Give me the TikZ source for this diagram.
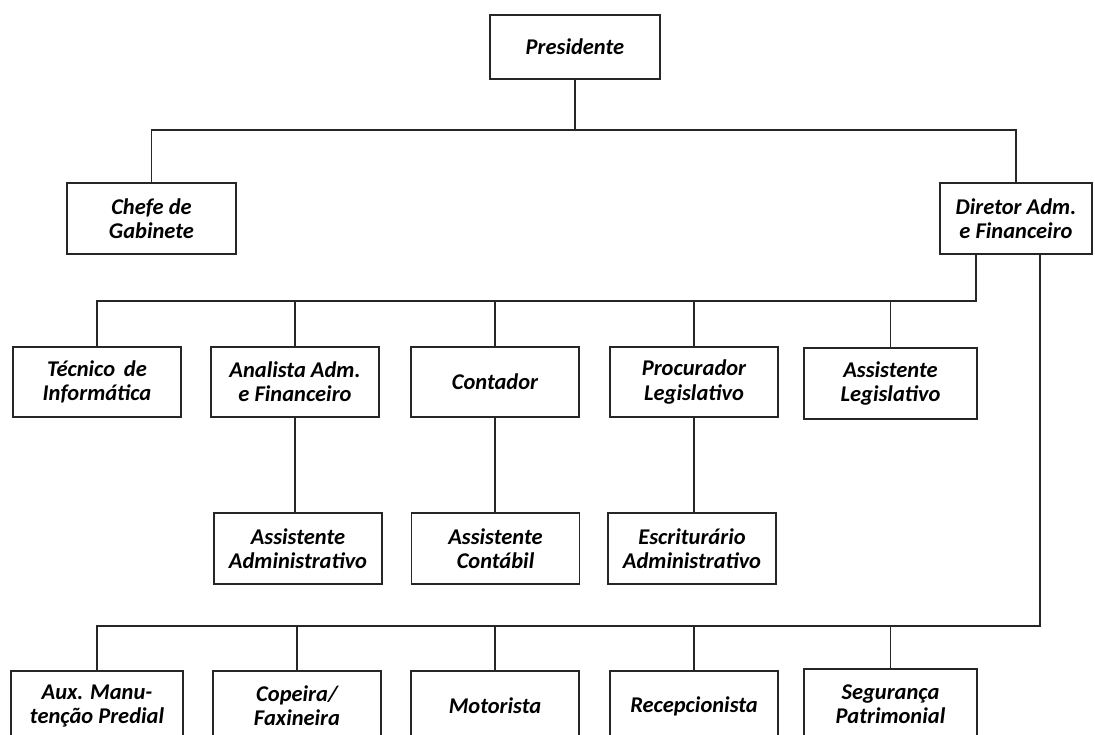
\documentclass[tikz,border=0pt]{standalone}
\usepackage{fontspec}
\setmainfont{Carlito}
\usepackage{tikz}

\begin{document}
\begin{tikzpicture}[cargo/.style={draw=black!85, line width=0.9pt, align=center, minimum width=3.36cm, minimum height=1.4cm, inner sep=1pt, font=\bfseries\itshape\fontsize{12.8}{13.8}\selectfont},
	liga/.style={draw=black!85, line width=0.9pt}]
	\useasboundingbox (0,0) rectangle (21.9,-14.7);
	\clip (0,0) rectangle (21.9,-14.7);
	\node[cargo, minimum width=3.4cm, minimum height=1.28cm] (pres) at (11.5,-0.94) {Presidente};
	\node[cargo, minimum width=3.38cm, minimum height=1.42cm] (chefe) at (3.03,-4.37) {Chefe de\\Gabinete};
	\node[cargo, minimum width=3.04cm, minimum height=1.42cm] (dir) at (20.32,-4.37) {Diretor Adm.\\e Financeiro};
	\coordinate (b1) at (11.5,-2.6);
	\draw[liga] (pres) -- (b1);
	\draw[liga] (chefe.north) |- (b1) -| (dir.north);
	% segundo nivel
	\node[cargo] (tec) at (1.94,-7.64) {Técnico\, de\\Informática};
	\node[cargo] (anal) at (5.9,-7.64) {Analista Adm.\\e Financeiro};
	\node[cargo] (cont) at (9.9,-7.64) {Contador};
	\node[cargo] (proc) at (13.88,-7.64) {Procurador\\Legislativo};
	\node[cargo, minimum width=3.46cm, minimum height=1.42cm] (aleg) at (17.81,-7.67) {Assistente\\Legislativo};
	\coordinate (d1) at ([xshift=-0.8cm]dir.south);
	\coordinate (b2) at (19.52,-6.02);
	\draw[liga] (d1) -- (b2) -| (tec.north);
	\foreach \n in {anal,cont,proc,aleg}
		\draw[liga] (\n.north) -- (\n.north |- b2);
	% terceiro nivel
	\node[cargo, minimum height=1.42cm] (aadm) at (5.96,-10.97) {Assistente\\Administrativo};
	\node[cargo, minimum height=1.42cm] (acont) at (9.91,-10.97) {Assistente\\Contábil};
	\node[cargo, minimum height=1.42cm] (escr) at (13.84,-10.97) {Escriturário\\Administrativo};
	\draw[liga] (anal.south) -- (anal.south |- aadm.north);
	\draw[liga] (cont.south) -- (cont.south |- acont.north);
	\draw[liga] (proc.south) -- (proc.south |- escr.north);
	% quarto nivel
	\node[cargo, minimum width=3.44cm] (aux) at (1.94,-14.12) {Aux. Manu-\\tenção Predial};
	\node[cargo] (cop) at (5.94,-14.12) {Copeira/\\Faxineira};
	\node[cargo] (mot) at (9.9,-14.12) {Motorista};
	\node[cargo] (rec) at (13.88,-14.12) {Recepcionista};
	\node[cargo, minimum width=3.46cm] (seg) at (17.81,-14.08) {Segurança\\Patrimonial};
	\coordinate (d2) at ([xshift=0.48cm]dir.south);
	\coordinate (b4) at (20.8,-12.52);
	\draw[liga] (d2) -- (b4) -| (aux.north);
	\foreach \n in {cop,mot,rec,seg}
		\draw[liga] (\n.north) -- (\n.north |- b4);
\end{tikzpicture}
\end{document}
